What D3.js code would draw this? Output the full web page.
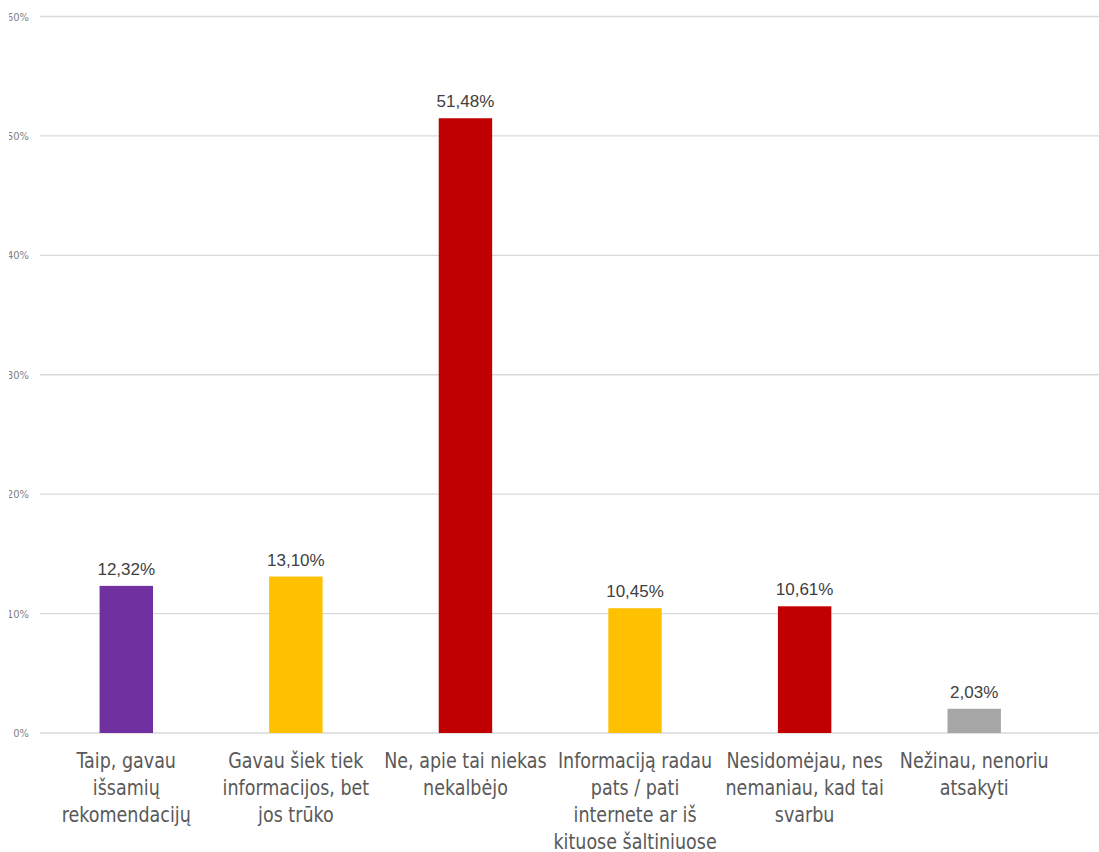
<!DOCTYPE html>
<html><head><meta charset="utf-8">
<script src="https://cdn.jsdelivr.net/npm/d3@7"></script>
<style>body{margin:0;background:#fff;}svg{display:block;}</style>
</head><body>
<svg id="c" width="1099" height="852"></svg>
<script>
const categories = [
  ["Taip, gavau","išsamių","rekomendacijų"],
  ["Gavau šiek tiek","informacijos, bet","jos trūko"],
  ["Ne, apie tai niekas","nekalbėjo"],
  ["Informaciją radau","pats / pati","internete ar iš","kituose šaltiniuose"],
  ["Nesidomėjau, nes","nemaniau, kad tai","svarbu"],
  ["Nežinau, nenoriu","atsakyti"]
];
const values = [12.32, 13.10, 51.48, 10.45, 10.61, 2.03];
const colors = ["#7030a0","#ffc000","#c00000","#ffc000","#c00000","#a6a6a6"];
const valueLabels = ["12,32%","13,10%","51,48%","10,45%","10,61%","2,03%"];
const yTicks = [0,10,20,30,40,50,60];

const svg = d3.select("#c");
const x = d3.scaleBand().domain(d3.range(values.length)).range([41.5, 1059]).paddingInner(0.685).paddingOuter(0.3425);
const y = d3.scaleLinear().domain([0,60]).range([733, 16.5]);

svg.append("defs").append("clipPath").attr("id","clipL").append("rect").attr("x",9).attr("y",0).attr("width",1099).attr("height",852);

const grid = svg.append("g");
grid.selectAll("line").data(yTicks).join("line")
  .attr("x1",40).attr("x2",1099).attr("y1",d=>y(d)).attr("y2",d=>y(d))
  .attr("stroke","#d9d9d9").attr("stroke-width",1.3);

const yAxis = d3.axisLeft(y).tickValues(yTicks).tickFormat(d=>d+"%").tickSize(0).tickPadding(0);
const clipG = svg.append("g").attr("clip-path","url(#clipL)");
const ya = clipG.append("g").attr("transform","translate(29,0)").call(yAxis);
ya.select(".domain").remove();
ya.selectAll("text").attr("fill","#7f7f7f").style("font-family","'Liberation Sans Narrow','DejaVu Sans Condensed',sans-serif").style("font-size","11px");

svg.append("g").selectAll("rect").data(values).join("rect")
  .attr("x",(d,i)=>x(i)).attr("width",x.bandwidth())
  .attr("y",d=>y(d)).attr("height",d=>y(0)-y(d))
  .attr("fill",(d,i)=>colors[i]);

svg.append("g").selectAll("text").data(values).join("text")
  .attr("x",(d,i)=>x(i)+x.bandwidth()/2).attr("y",d=>y(d)-11)
  .attr("text-anchor","middle").attr("fill","#404040")
  .style("font-family","'Liberation Sans',Arial,sans-serif").style("font-size","17px")
  .text((d,i)=>valueLabels[i]);

const cl = svg.append("g");
categories.forEach((lines,i)=>{
  const cx = x(i)+x.bandwidth()/2;
  const t = cl.append("text").attr("text-anchor","middle").attr("fill","#595959")
    .style("font-family","'Liberation Sans Narrow','DejaVu Sans Condensed',sans-serif").style("font-size","20.5px")
    .attr("transform",`translate(${cx},768) scale(0.95,1)`);
  lines.forEach((l,j)=>t.append("tspan").attr("x",0).attr("y",j*27).text(l));
});
</script>
</body></html>
